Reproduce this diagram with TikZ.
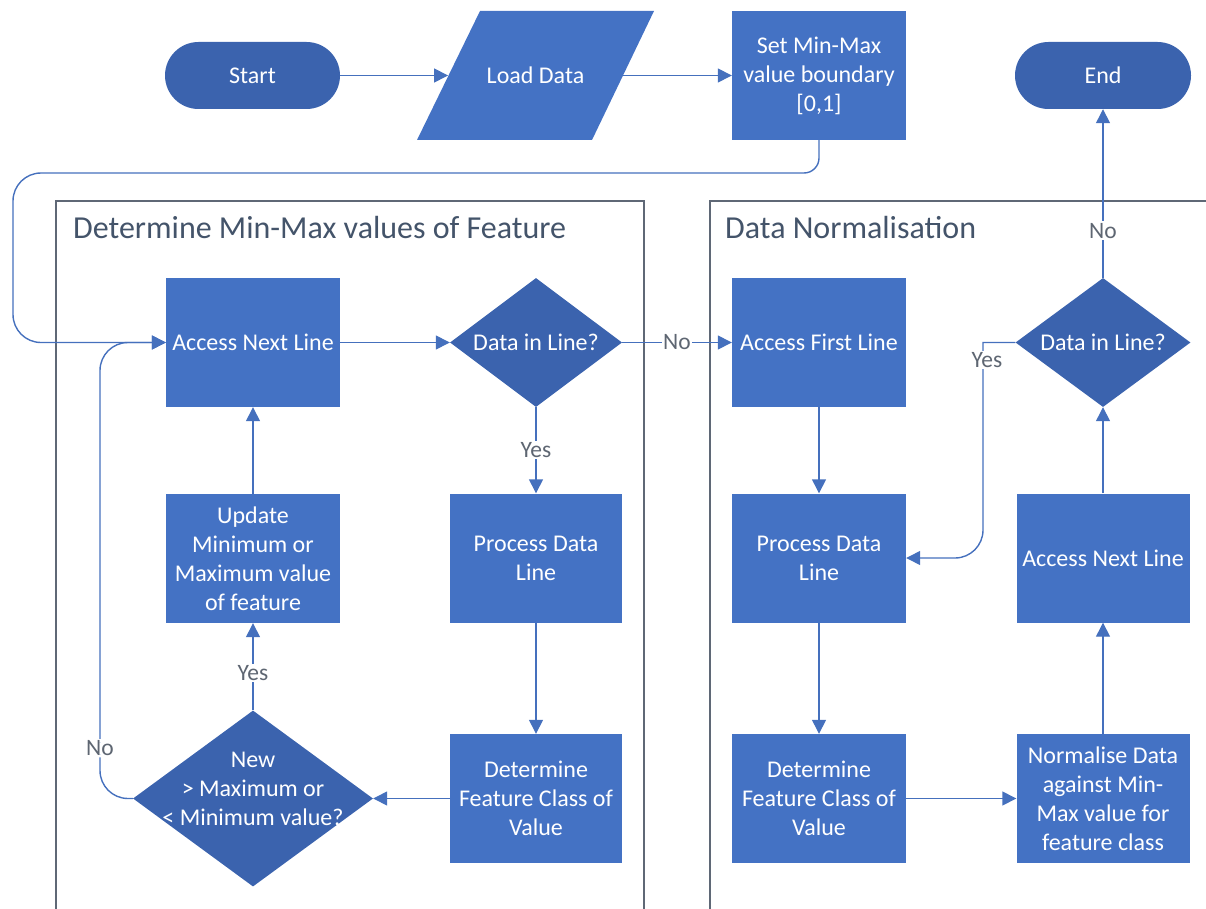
\documentclass[tikz,border=0pt]{standalone}
\usepackage{fontspec}
\setmainfont{Carlito}
\usetikzlibrary{arrows.meta,shapes.geometric}
\definecolor{boxblue}{HTML}{4472C4}
\definecolor{deepblue}{HTML}{3B63AE}
\definecolor{linkblue}{HTML}{4570BD}
\definecolor{panelgray}{HTML}{5F6876}
\definecolor{titlegray}{HTML}{44546A}
\definecolor{labelgray}{HTML}{5E6672}

\begin{document}
\begin{tikzpicture}[x=1pt,y=-1pt,
  boxtext/.style={text=white, font=\fontsize{24}{29}\selectfont, align=center},
  procbox/.style={rectangle, fill=boxblue, inner sep=0pt, minimum width=174pt, minimum height=129pt, boxtext},
  pill/.style={rectangle, rounded corners=33.5pt, fill=deepblue, inner sep=0pt, minimum width=176pt, minimum height=67pt, boxtext},
  decision/.style={diamond, fill=deepblue, inner sep=0pt},
  dlabel/.style={boxtext, inner sep=0pt},
  link/.style={draw=linkblue, line width=1.4pt, -{Triangle[length=14pt,width=14pt]}},
  flag/.style={fill=white, text=labelgray, font=\fontsize{23.5}{28}\selectfont, inner sep=1.5pt},
  paneltitle/.style={anchor=west, text=titlegray, font=\fontsize{32}{38}\selectfont, inner sep=0pt},
  panel/.style={draw=panelgray, line width=1.5pt}
]
\useasboundingbox (0,0) rectangle (1206,909);

% swimlane frames
\draw[panel] (56,909) -- (56,201) -- (644,201) -- (644,909);
\draw[panel] (710,909) -- (710,201) -- (1206,201);
\node[paneltitle] (titleA) at (73,228) {Determine Min-Max values of Feature};
\node[paneltitle] (titleB) at (725,228) {Data Normalisation};

% top row
\node[pill, minimum width=175pt] (start) at (252.5,75.5) {Start};
\fill[boxblue] (417,140) -- (592,140) -- (654,11) -- (480,11) -- cycle;
\node[rectangle, inner sep=0pt, minimum width=174.5pt, minimum height=129pt, boxtext] (load) at (535.5,75.5) {Load Data};
\node[procbox] (setmm) at (819,75.5) {Set Min-Max\\value boundary\\{[0,1]}};
\node[pill] (finish) at (1103,75.5) {End};

% min-max search lane
\node[procbox] (nextA) at (253,342.5) {Access Next Line};
\node[decision, minimum width=172pt, minimum height=129pt] (testA) at (536,342.5) {};
\node[dlabel] (testAtext) at (testA.center) {Data in Line?};
\node[procbox, minimum width=172pt] (procA) at (536,558) {Process Data\\Line};
\node[procbox, minimum width=172pt] (classA) at (536,798.5) {Determine\\Feature Class of\\Value};
\node[decision, minimum width=240pt, minimum height=176pt] (cmp) at (253,798.5) {};
\node[dlabel] (cmptext) at (253,788.5) {New\\> Maximum or\\< Minimum value?};
\node[procbox] (update) at (253,558.5) {Update\\Minimum or\\Maximum value\\of feature};

% normalisation lane
\node[procbox] (firstB) at (819,342.5) {Access First Line};
\node[procbox] (procB) at (819,558) {Process Data\\Line};
\node[procbox] (classB) at (819,798.5) {Determine\\Feature Class of\\Value};
\node[procbox, minimum width=173pt] (norm) at (1103,798.5) {Normalise Data\\against Min-\\Max value for\\feature class};
\node[procbox, minimum width=173pt] (nextB) at (1103,558) {Access Next Line};
\node[decision, minimum width=175pt, minimum height=129pt] (testB) at (1103,342.5) {};
\node[dlabel] (testBtext) at (testB.center) {Data in Line?};

% connectors
\draw[link] (start) -- (load);
\draw[link] (load) -- (setmm);
\draw[link] (setmm.south) [rounded corners=15pt] -- (819,173) [rounded corners=28pt] -- (13,173) -- (13,342.5) -- (nextA.west);
\draw[link] (nextA) -- (testA);
\draw[link] (testA) -- node[flag] {No} (firstB);
\draw[link] (testA) -- node[flag] {Yes} (procA);
\draw[link] (procA) -- (classA);
\draw[link] (classA) -- (cmp);
\draw[link] (cmp) -- node[flag, pos=0.43] {Yes} (update);
\draw[link] (update) -- (nextA);
\draw[link, rounded corners=28pt] (cmp.west) -- (100,798.5) -- node[flag, pos=0.11] {No} (100,342.5) -- (nextA.west);

\draw[link] (firstB) -- (procB);
\draw[link] (procB) -- (classB);
\draw[link] (classB) -- (norm);
\draw[link] (norm) -- (nextB);
\draw[link] (nextB) -- (testB);
\draw[link] (testB) -- node[flag, pos=0.28] {No} (finish);
\draw[link] (testB.west) -- (983,342.5) [rounded corners=28pt] -- (983,558) -- (procB.east);
\node[flag] (yesB) at (987,360) {Yes};
\end{tikzpicture}
\end{document}
